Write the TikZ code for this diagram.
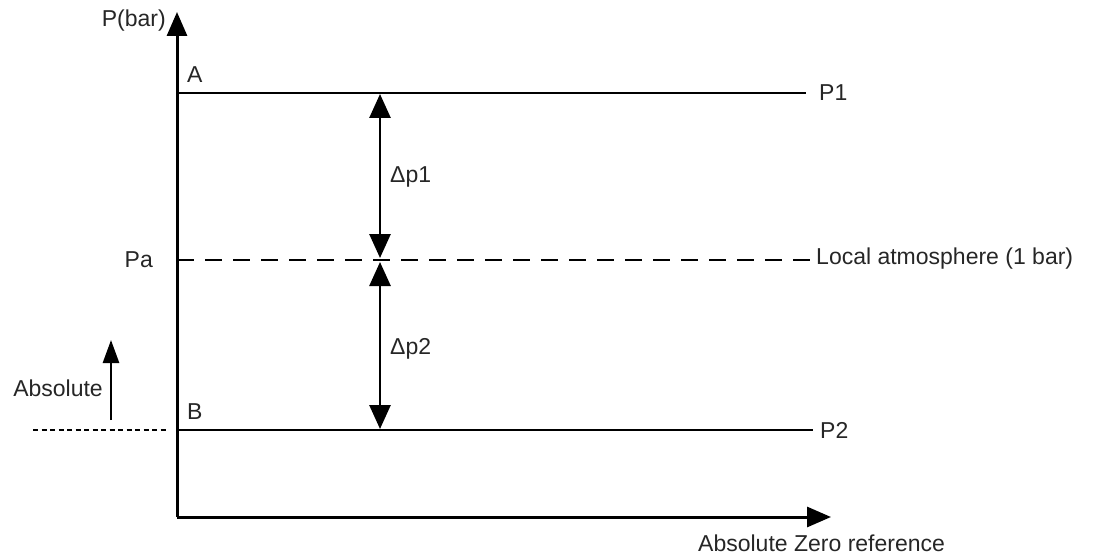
\documentclass[tikz,border=0pt]{standalone}
\usepackage{fontspec}
\setmainfont{Liberation Sans}
\usetikzlibrary{arrows.meta}
\begin{document}
\begin{tikzpicture}[x=1pt,y=-1pt,
  axis/.style={line width=3pt,-{Triangle[length=24pt,width=20pt]}},
  level/.style={line width=2.7pt},
  dbl/.style={line width=2.7pt,{Triangle[length=24pt,width=21pt]}-{Triangle[length=24pt,width=21pt]}},
  lbl/.style={font=\fontsize{23}{27}\selectfont,inner sep=0pt,text=black!85}]
\useasboundingbox (0,0) rectangle (1094,556);
% axes
\coordinate (O) at (177,517);
\coordinate (ytip) at (177,12);
\coordinate (xtip) at (831,517);
\draw[axis] (O) -- (ytip);
\draw[axis] (O) -- (xtip);
% levels
\coordinate (A0) at (177,93);
\coordinate (A1) at (806,93);
\coordinate (Pa0) at (177,260);
\coordinate (Pa1) at (810,260);
\coordinate (B0) at (177,430);
\coordinate (B1) at (813,430);
\draw[level] (A0) -- (A1);
\draw[level,dash pattern=on 17pt off 11pt] (Pa0) -- (Pa1);
\draw[level] (B0) -- (B1);
% dotted left
\coordinate (D0) at (33,430);
\coordinate (D1) at (166,430);
\draw[line width=2.5pt,dash pattern=on 5pt off 3.5pt] (D0) -- (D1);
% absolute arrow
\coordinate (ab0) at (111,420);
\coordinate (ab1) at (111,340);
\draw[line width=2.7pt,-{Triangle[length=23pt,width=16pt]}] (ab0) -- (ab1);
% delta arrows
\coordinate (d1a) at (380,94);
\coordinate (d1b) at (380,258);
\coordinate (d2a) at (380,262);
\coordinate (d2b) at (380,429);
\draw[dbl] (d1a) -- (d1b);
\draw[dbl] (d2a) -- (d2b);
% labels
\node[lbl,anchor=east] (pbar) at (166,21) {P(bar)};
\node[lbl,anchor=west] (A) at (187,75) {A};
\node[lbl,anchor=west] (B) at (187,412) {B};
\node[lbl,anchor=east] (Pa) at (153,260) {Pa};
\node[lbl,anchor=west] (P1) at (819,93) {P1};
\node[lbl,anchor=west] (P2) at (820,430) {P2};
\node[lbl,anchor=west] (loc) at (816,259) {Local atmosphere (1 bar)};
\node[lbl,anchor=west] (dp1) at (390,177) {Δp1};
\node[lbl,anchor=west] (dp2) at (390,349) {Δp2};
\node[lbl,anchor=east] (abs) at (103,388) {Absolute};
\node[lbl,anchor=west] (zero) at (698,543) {Absolute Zero reference};
\end{tikzpicture}
\end{document}
